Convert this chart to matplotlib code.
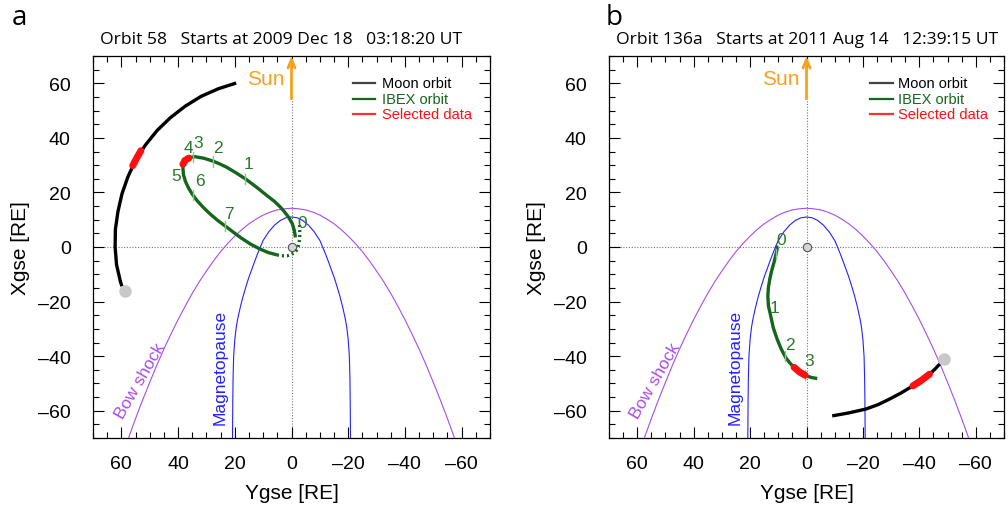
import matplotlib
matplotlib.use("Agg")
import matplotlib.pyplot as plt
from matplotlib.ticker import MultipleLocator

plt.rcParams['font.family'] = ['Liberation Sans', 'DejaVu Sans']

# ---------------- data (Ygse, Xgse in Earth radii) ----------------
# model boundaries, half profile (|Y|, X)
BOW_Y = [0, 2.5, 5, 7.5, 10, 12.5, 15, 17.5, 20, 22.5, 25, 27.5, 30, 32.5, 35, 37.5,
         40, 42.5, 45, 47.5, 50, 52.5, 55, 57.5]
BOW_X = [14.2, 14.0, 13.6, 12.8, 11.7, 10.2, 8.5, 6.4, 4.0, 1.3, -1.7, -5.1, -8.8, -12.7,
         -17.0, -21.7, -26.6, -31.9, -37.4, -43.3, -49.6, -56.1, -62.9, -70.1]
MP_Y = [0, 2, 4, 6, 8, 10, 11, 12, 13, 14, 15, 16, 17, 18, 19, 19.5, 20, 20.4, 20.6, 20.7, 20.8]
MP_X = [11.0, 10.7, 9.7, 8.0, 5.6, 2.4, 0.0, -2.6, -5.3, -8.2, -11.0, -14.3, -17.8, -21.8,
        -26.5, -29.5, -34.0, -40.0, -48.0, -56.0, -70.0]

# panel a: orbit 58
MOON_A_Y = [19.5, 25.8, 31.9, 37.5, 42.7, 47.4, 51.5, 55.0, 57.7, 59.8, 61.2, 62.1, 62.2,
            61.7, 60.3, 59.8]
MOON_A_X = [60.1, 58.0, 55.2, 51.6, 47.4, 42.7, 37.4, 31.8, 25.7, 19.4, 13.0, 6.5, 0.0,
            -6.5, -12.8, -14.4]
MOON_A_SEL_Y = [53.1, 54.6, 56.0]
MOON_A_SEL_X = [35.3, 32.6, 29.8]
MOON_A_END = (58.8, -16.0)
IBEX_A_Y = [-1.4, -1.0, -0.3, 1.0, 2.5, 3.9, 6.0, 8.6, 12.3, 16.3, 19.6, 22.8, 25.2, 27.5,
            30.8, 34.0, 35.4, 36.4, 37.6, 38.2, 38.3, 38.1, 37.4, 36.3, 34.9, 33.2, 31.1,
            28.7, 26.1, 23.4, 20.6, 17.6, 14.5, 11.4, 8.3, 5.1]
IBEX_A_X = [3.5, 6.0, 8.5, 10.9, 12.9, 14.6, 16.7, 18.8, 21.9, 25.0, 27.2, 29.2, 30.4, 31.4,
            32.5, 33.1, 32.9, 32.5, 31.7, 30.4, 29.0, 26.5, 24.0, 21.6, 19.2, 16.9, 14.5,
            12.1, 9.8, 7.7, 5.5, 3.2, 1.1, -0.6, -2.0, -2.9]
IBEX_A_GAP_Y = [5.1, 3.2, 1.5, 0.2, -0.8, -1.7, -2.3, -2.7, -2.9, -2.9, -2.8]
IBEX_A_GAP_X = [-2.9, -3.2, -3.2, -2.8, -2.2, -1.3, 0.0, 1.5, 3.5, 6.0, 8.4]
IBEX_A_SEL_Y = [38.3, 37.6, 36.2]
IBEX_A_SEL_X = [30.3, 31.7, 32.6]
DAY_TICK_A_Y = [16.3, 27.6, 34.6, 34.6, 23.5]
DAY_TICK_A_X = [25.0, 31.4, 33.0, 19.0, 7.6]
DAY_LAB_A = ["0", "1", "2", "3", "4", "5", "6", "7"]
DAY_LAB_A_Y = [-3.8, 15.1, 25.8, 32.9, 36.2, 40.5, 32.3, 22.2]
DAY_LAB_A_X = [9.1, 30.5, 36.6, 38.2, 36.6, 26.2, 24.3, 12.1]

# panel b: orbit 136a
MOON_B_Y = [-9.1, -15.0, -21.0, -25.3, -29.3, -33.5, -37.7, -40.7, -43.6, -45.5, -47.2]
MOON_B_X = [-61.9, -60.8, -59.4, -57.8, -55.8, -53.5, -50.9, -48.9, -46.6, -44.8, -42.9]
MOON_B_SEL_Y = [-37.7, -40.7, -43.6]
MOON_B_SEL_X = [-50.9, -48.9, -46.6]
MOON_B_END = (-48.9, -41.1)
IBEX_B_Y = [10.6, 10.4, 10.9, 11.5, 12.3, 13.0, 13.5, 13.7, 13.5, 12.7, 11.8, 10.4, 9.0,
            7.4, 5.9, 4.4, 2.5, 0.5, -1.6, -3.8]
IBEX_B_X = [0.5, -0.7, -3.0, -5.6, -8.5, -11.7, -14.8, -17.9, -21.5, -25.2, -29.5, -33.8,
            -37.3, -40.5, -42.5, -44.1, -45.8, -47.0, -47.8, -48.2]
IBEX_B_SEL_Y = [4.4, 2.5, 0.5]
IBEX_B_SEL_X = [-44.1, -45.8, -47.0]
DAY_TICK_B_Y = [10.7, 7.7, 0.5]
DAY_TICK_B_X = [-2.6, -39.9, -47.0]
DAY_LAB_B = ["0", "1", "2", "3"]
DAY_LAB_B_Y = [9.1, 11.2, 5.9, -0.9]
DAY_LAB_B_X = [2.9, -22.1, -35.6, -41.7]

TITLES = ["Orbit 58   Starts at 2009 Dec 18   03:18:20 UT",
          "Orbit 136a   Starts at 2011 Aug 14   12:39:15 UT"]
PANEL_LETTERS = ["a", "b"]
TICKS = [60, 40, 20, 0, -20, -40, -60]
LEGEND_LABELS = ["Moon orbit", "IBEX orbit", "Selected data"]

# ---------------- styles ----------------
C_MOON = "black"
C_IBEX = "#14661a"
C_SEL = "#ff1010"
C_BOW = "#a94de8"
C_MP = "#2222ff"
C_SUN = "#f5a21c"
C_DAYTXT = "#2a7a2a"
C_DAYTICK = "#8cc48c"

W, H = 1008, 506
fig = plt.figure(figsize=(W / 100, H / 100), dpi=100)
ax_top, ax_bot = 57, 439
axes_px = [(93, 397), (609, 395)]
title_cx = [281, 807]

panels = [
    dict(moon=(MOON_A_Y, MOON_A_X), moon_sel=(MOON_A_SEL_Y, MOON_A_SEL_X), moon_end=MOON_A_END,
         ibex=(IBEX_A_Y, IBEX_A_X), gap=(IBEX_A_GAP_Y, IBEX_A_GAP_X),
         ibex_sel=(IBEX_A_SEL_Y, IBEX_A_SEL_X), dticks=(DAY_TICK_A_Y, DAY_TICK_A_X),
         dlab=(DAY_LAB_A, DAY_LAB_A_Y, DAY_LAB_A_X)),
    dict(moon=(MOON_B_Y, MOON_B_X), moon_sel=(MOON_B_SEL_Y, MOON_B_SEL_X), moon_end=MOON_B_END,
         ibex=(IBEX_B_Y, IBEX_B_X), gap=None,
         ibex_sel=(IBEX_B_SEL_Y, IBEX_B_SEL_X), dticks=(DAY_TICK_B_Y, DAY_TICK_B_X),
         dlab=(DAY_LAB_B, DAY_LAB_B_Y, DAY_LAB_B_X)),
]

bow_full_y = [-v for v in BOW_Y[::-1]] + BOW_Y[1:]
bow_full_x = BOW_X[::-1] + BOW_X[1:]
mp_full_y = [-v for v in MP_Y[::-1]] + MP_Y[1:]
mp_full_x = MP_X[::-1] + MP_X[1:]

for i, p in enumerate(panels):
    left, width = axes_px[i]
    ax = fig.add_axes([left / W, (H - ax_bot) / H, width / W, (ax_bot - ax_top) / H])
    ax.set_xlim(70, -70)
    ax.set_ylim(-70, 70)

    # reference lines and Earth
    ax.axhline(0, color="#777777", ls=(0, (1, 1.5)), lw=0.8, zorder=1)
    ax.plot([0, 0], [-70, 54.3], color="#777777", ls=(0, (1, 1.5)), lw=0.8, zorder=1)
    ax.plot([0], [0], "o", ms=6, mfc="#d5d5d5", mec="#555555", mew=0.8, zorder=3)

    # boundaries
    ax.plot(bow_full_y, bow_full_x, color=C_BOW, lw=0.8, zorder=2)
    ax.plot(mp_full_y, mp_full_x, color=C_MP, lw=0.8, zorder=2)
    ax.text(53.5, -49, "Bow shock", rotation=60, color=C_BOW, fontsize=12.5,
            ha="center", va="center", rotation_mode="anchor")
    ax.text(25.2, -43.6, "Magnetopause", rotation=90, color=C_MP, fontsize=12.5,
            ha="center", va="center", rotation_mode="anchor")

    # Sun arrow
    ax.annotate("", xy=(0, 70), xytext=(0, 54.3),
                arrowprops=dict(arrowstyle="->,head_length=0.6,head_width=0.25",
                                color=C_SUN, lw=2, shrinkA=0, shrinkB=0), zorder=4)
    ax.text(2.5, 61.7, "Sun", color=C_SUN, fontsize=15, ha="right", va="center")

    # Moon orbit
    my, mx = p["moon"]
    ax.plot(my, mx, color=C_MOON, lw=2.4, solid_capstyle="butt", solid_joinstyle="round", zorder=4)
    sy, sx = p["moon_sel"]
    ax.plot(sy, sx, color=C_SEL, lw=5, solid_capstyle="round", zorder=5)
    ax.plot([p["moon_end"][0]], [p["moon_end"][1]], "o", ms=9, color="#c8c8c8", mec="none", zorder=5)

    # IBEX orbit
    iy, ix = p["ibex"]
    ax.plot(iy, ix, color=C_IBEX, lw=2.4, solid_capstyle="butt", solid_joinstyle="round", zorder=4)
    if p["gap"] is not None:
        gy, gx = p["gap"]
        ax.plot(gy, gx, color=C_IBEX, lw=2.4, ls=(0, (0.6, 0.9)), zorder=4)
    ty, tx = p["dticks"]
    for y, x in zip(ty, tx):
        ax.plot([y, y], [x - 1.9, x + 1.9], color=C_DAYTICK, lw=1.0, zorder=5)
    sy, sx = p["ibex_sel"]
    ax.plot(sy, sx, color=C_SEL, lw=5, solid_capstyle="round", zorder=6)
    labs, ly, lx = p["dlab"]
    for t, y, x in zip(labs, ly, lx):
        ax.text(y, x, t, color=C_DAYTXT, fontsize=12.5, ha="center", va="center", zorder=6)

    # legend (manual, axes coordinates)
    if i == 0:
        lx0, lx1, tx0 = (353 - left) / width, (375 - left) / width, (381.7 - left) / width
    else:
        lx0, lx1, tx0 = (870 - left) / width, (893 - left) / width, (898.3 - left) / width
    rows = [(439 - r) / 382 for r in (84, 99.5, 115)]
    for lab, col, lcol, yy in zip(LEGEND_LABELS, ["black", C_IBEX, C_SEL],
                                  ["#444444", C_IBEX, "#ff3030"], rows):
        ax.plot([lx0, lx1], [yy, yy], color=lcol, lw=1.6, transform=ax.transAxes)
        ax.text(tx0, yy, lab, color=col, fontsize=10.5, ha="left", va="center",
                transform=ax.transAxes)

    # axes styling
    ax.set_xticks(TICKS)
    ax.set_yticks(TICKS)
    ax.set_xticklabels([str(t) if t >= 0 else "\u2013" + str(-t) for t in TICKS])
    ax.set_yticklabels([str(t) if t >= 0 else "\u2013" + str(-t) for t in TICKS])
    ax.xaxis.set_minor_locator(MultipleLocator(5))
    ax.yaxis.set_minor_locator(MultipleLocator(5))
    ax.tick_params(which="both", direction="in", top=True, right=True, width=0.8)
    ax.tick_params(which="major", length=8, labelsize=14)
    ax.tick_params(which="minor", length=4)
    ax.tick_params(axis="y", pad=16)
    ax.tick_params(axis="x", pad=12)
    for s in ax.spines.values():
        s.set_linewidth(0.9)
    ax.set_xlabel("Ygse [RE]", fontsize=15, labelpad=8)
    ax.set_ylabel("Xgse [RE]", fontsize=15, labelpad=6)

    # title and panel letter
    fig.text(title_cx[i] / W, 1 - 40 / H, TITLES[i], fontsize=12.6,
             family=["Open Sans", "DejaVu Sans"], ha="center", va="center")
    fig.text((12 if i == 0 else 606) / W, 1 - 18 / H, PANEL_LETTERS[i], fontsize=20,
             family=["Open Sans", "DejaVu Sans"], ha="left", va="center")

fig.savefig("out.png", dpi=100)
